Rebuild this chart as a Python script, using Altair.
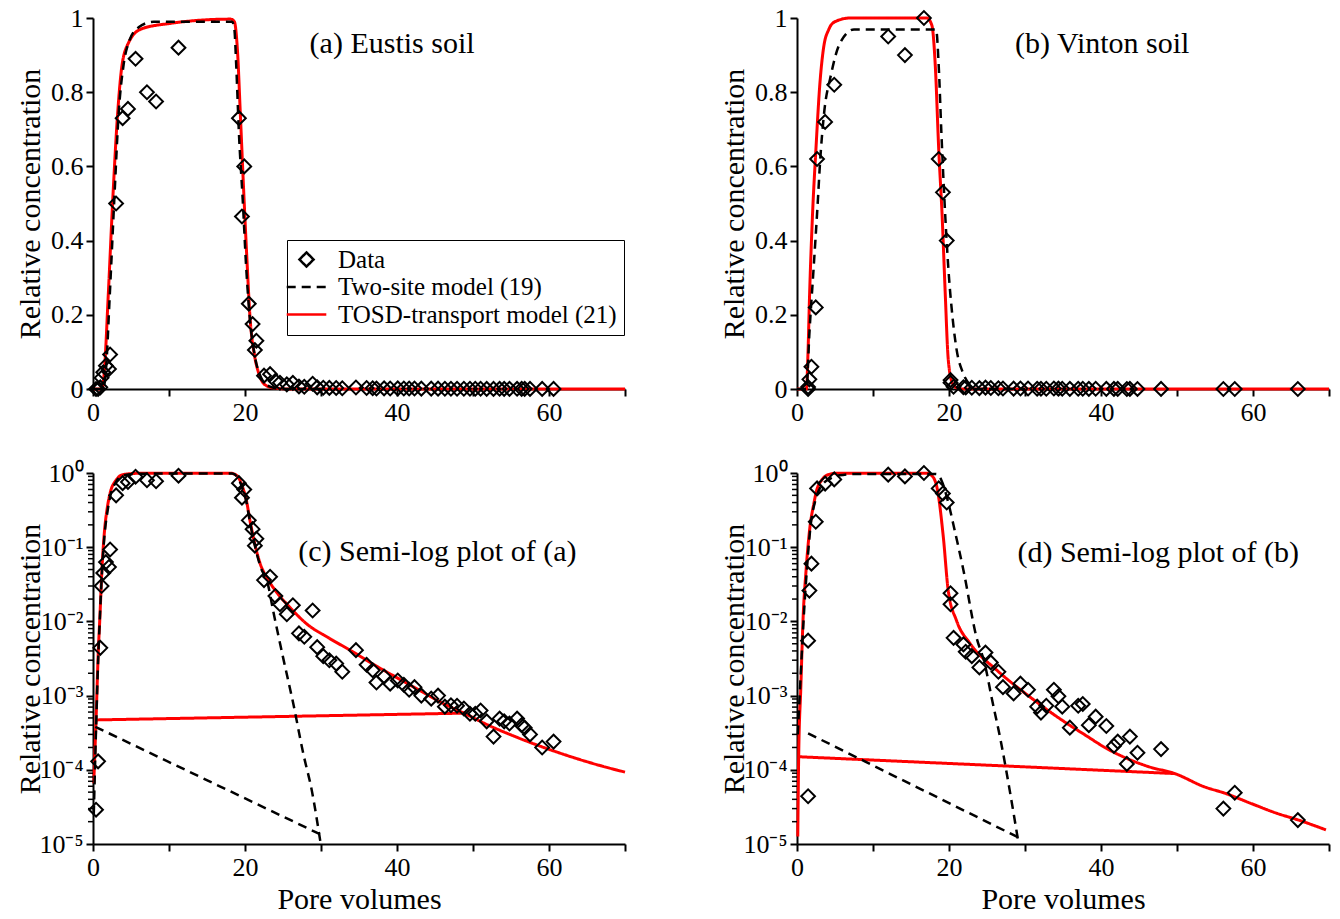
import altair as alt
import pandas as pd

FONT = "Liberation Serif"
SERIES = ["Data", "Two-site model (19)", "TOSD-transport model (21)"]

# ---------------- measured data ----------------
eustis_pv = [0.4, 0.67, 0.96, 1.13, 1.35, 1.7, 2.1, 2.25, 3.04, 3.9, 4.6, 5.6, 7.1, 8.3, 11.25,
             19.2, 19.6, 19.9, 20.5, 21.0, 21.3, 21.5, 22.5, 23.3, 24.0, 24.6, 25.5, 26.3, 27.1,
             27.8, 28.9, 29.5, 30.3, 31.1, 32.0, 32.8, 34.6, 36.0, 36.8, 37.3, 38.3, 39.1, 40.1,
             40.9, 41.6, 42.3, 43.2, 44.5, 45.4, 46.3, 47.1, 47.9, 48.8, 49.6, 50.3, 51.0, 51.8,
             52.7, 53.5, 54.1, 54.8, 55.8, 56.4, 56.8, 57.5, 59.1, 60.6]
eustis_c = [2.9e-5, 1.3e-4, 4.4e-3, 0.03, 0.045, 0.063, 0.054, 0.093, 0.50, 0.73, 0.755, 0.89, 0.80,
            0.775, 0.92, 0.73, 0.465, 0.60, 0.23, 0.175, 0.105, 0.13, 0.036, 0.040, 0.022, 0.017,
            0.0125, 0.0165, 6.9e-3, 6.2e-3, 0.014, 4.5e-3, 3.4e-3, 3.0e-3, 2.7e-3, 2.1e-3, 4.1e-3,
            2.6e-3, 2.2e-3, 1.5e-3, 1.8e-3, 1.45e-3, 1.6e-3, 1.4e-3, 1.2e-3, 1.3e-3, 1.0e-3, 9.1e-4,
            1.0e-3, 7.1e-4, 7.4e-4, 7.3e-4, 6.7e-4, 5.7e-4, 5.7e-4, 6.3e-4, 4.5e-4, 2.8e-4, 4.9e-4,
            4.5e-4, 4.2e-4, 4.9e-4, 4.0e-4, 3.7e-4, 3.0e-4, 2.0e-4, 2.4e-4]

vinton_pv = [1.46, 1.46, 1.63, 1.9, 2.47, 2.64, 3.7, 4.9, 12.0, 14.2, 16.7, 18.65, 19.2, 19.7,
             20.2, 20.2, 20.6, 21.9, 22.2, 23.0, 24.8, 24.0, 25.5, 26.5, 27.1, 28.5, 29.4, 30.4,
             31.6, 32.1, 32.8, 33.8, 34.4, 34.9, 35.9, 37.0, 37.6, 38.4, 39.3, 40.7, 41.7, 42.2,
             43.4, 43.8, 44.8, 47.9, 56.1, 57.6, 65.9]
vinton_c = [4.4e-5, 5.5e-3, 2.6e-2, 6.0e-2, 0.22, 0.62, 0.72, 0.82, 0.95, 0.90, 1.0, 0.62, 0.53,
            0.40, 0.024, 0.017, 6e-3, 4.9e-3, 3.9e-3, 3.4e-3, 3.8e-3, 2.4e-3, 2.8e-3, 2.1e-3,
            1.3e-3, 1.07e-3, 1.45e-3, 1.2e-3, 7.1e-4, 5.9e-4, 7.3e-4, 1.2e-3, 9.8e-4, 7.1e-4,
            3.7e-4, 7.3e-4, 7.7e-4, 4.0e-4, 5.2e-4, 3.9e-4, 2.1e-4, 2.4e-4, 1.2e-4, 2.8e-4,
            1.7e-4, 1.9e-4, 3.0e-5, 4.9e-5, 2.1e-5]

# ---- model curves, panel (a) linear ----
a_tosd_pv = [0, 1.2, 1.5, 2.0, 2.6, 3.2, 3.8, 4.6, 6.3, 10.0, 18.1, 18.6, 19.0, 19.4, 19.8, 20.3,
             20.65, 21.2, 21.8, 22.6, 23.7, 26.0, 70.0]
a_tosd_c = [0, 0, 0.05, 0.25, 0.51, 0.73, 0.87, 0.93, 0.97, 0.985, 0.997, 0.99, 0.915, 0.735,
            0.546, 0.33, 0.196, 0.097, 0.043, 0.012, 0.003, 0, 0]
a_two_pv = [0, 1.3, 1.7, 2.2, 2.8, 3.4, 4.0, 4.8, 6.0, 8.0, 18.3, 18.6, 18.85, 19.2, 19.7, 20.15,
            20.65, 21.3, 22.05, 23.2, 24.9, 30.0]
a_two_c = [0, 0, 0.05, 0.25, 0.51, 0.75, 0.87, 0.94, 0.975, 0.99, 0.99, 0.97, 0.87, 0.69, 0.51,
           0.33, 0.187, 0.088, 0.034, 0.007, 0, 0]

# ---- model curves, panel (b) linear ----
b_tosd_pv = [0, 1.24, 1.45, 1.65, 2.0, 2.5, 3.0, 3.5, 4.2, 5.0, 7.0, 17.1, 17.75, 18.2, 18.65,
             19.1, 19.5, 19.9, 20.45, 21.0, 21.6, 70.0]
b_tosd_c = [0, 0, 0.1, 0.25, 0.45, 0.65, 0.82, 0.92, 0.97, 0.99, 1.0, 1.0, 0.98, 0.87, 0.645,
            0.465, 0.26, 0.08, 0.016, 0.003, 0, 0]
b_two_pv = [0, 1.24, 1.63, 2.2, 2.75, 3.0, 3.6, 4.4, 5.6, 7.5, 18.3, 18.65, 19.0, 19.4, 19.9,
            20.45, 21.0, 21.85, 22.7, 23.5, 30.0]
b_two_c = [0, 0, 0.15, 0.33, 0.51, 0.6, 0.75, 0.84, 0.93, 0.969, 0.969, 0.87, 0.69, 0.51, 0.33,
           0.196, 0.106, 0.043, 0.012, 0, 0]

# ---- model curves, panel (c) semi-log ----
c_tosd_pv = [0.1, 0.4, 0.7, 0.9, 1.2, 1.5, 1.9, 2.3, 3.0, 4.0, 6.0, 18.1, 19.0, 19.6, 20.2, 20.65,
             21.3, 22.0, 23.0, 24.0, 25.9, 28.1, 31.0, 34.0, 37.0, 40.0, 43.0, 46.0, 48.8, 52.0,
             55.0, 58.0, 61.0, 64.0, 67.0, 70.0]
c_tosd_c = [6.6e-5, 4.7e-4, 4.0e-3, 0.011, 0.056, 0.16, 0.35, 0.56, 0.79, 0.955, 0.99, 0.993,
            0.91, 0.68, 0.42, 0.23, 0.11, 0.06, 0.037, 0.026, 0.0155, 9.3e-3, 6.0e-3, 4.0e-3,
            2.6e-3, 1.74e-3, 1.17e-3, 7.9e-4, 5.8e-4, 4.0e-4, 2.95e-4, 2.24e-4, 1.74e-4,
            1.38e-4, 1.12e-4, 9.3e-5]
c_tosd_seg_pv = [0.35, 48.8]
c_tosd_seg_c = [4.7e-4, 5.8e-4]
c_two_pv = [0.1, 0.4, 0.7, 0.9, 1.2, 1.5, 1.9, 2.3, 3.0, 4.0, 6.0, 18.3, 19.0, 19.6, 20.2, 20.65,
            21.3, 22.0, 23.0, 23.7, 25.0, 26.35, 27.7, 28.8, 29.9]
c_two_c = [2.5e-5, 3.5e-4, 3.5e-3, 0.011, 0.05, 0.14, 0.3, 0.5, 0.75, 0.93, 0.98, 0.985, 0.88,
           0.65, 0.40, 0.22, 0.105, 0.056, 0.032, 0.014, 3.3e-3, 7.8e-4, 1.6e-4, 5.2e-5, 1.1e-5]
c_two_seg_pv = [0.3, 29.9]
c_two_seg_c = [3.8e-4, 1.35e-5]

# ---- model curves, panel (d) semi-log ----
d_tosd_pv = [0.1, 0.22, 0.5, 0.8, 1.2, 1.7, 2.2, 2.6, 3.2, 3.9, 5.0, 17.1, 17.7, 18.4, 19.25,
             19.9, 21.0, 22.8, 26.3, 30.7, 35.1, 37.9, 40.7, 43.5, 46.3, 49.7, 53.6, 56.4, 59.8,
             63.1, 66.0, 69.6]
d_tosd_c = [1.26e-5, 1.5e-4, 1.26e-3, 0.011, 0.05, 0.186, 0.38, 0.59, 0.79, 0.93, 0.99, 0.995,
            0.93, 0.65, 0.138, 0.026, 0.0102, 5.0e-3, 2.2e-3, 9.5e-4, 4.5e-4, 2.95e-4, 1.95e-4,
            1.41e-4, 1.1e-4, 8.9e-5, 5.9e-5, 4.8e-5, 3.5e-5, 2.6e-5, 2.1e-5, 1.55e-5]
d_tosd_seg_pv = [0.2, 49.7]
d_tosd_seg_c = [1.5e-4, 8.9e-5]
d_two_pv = [0.1, 0.5, 0.9, 1.3, 1.8, 2.4, 3.0, 3.6, 4.4, 5.6, 7.5, 18.3, 19.0, 19.7, 20.8, 21.9,
            23.6, 24.7, 25.6, 26.9, 28.0, 29.1]
d_two_c = [3.0e-4, 2.0e-3, 0.012, 0.05, 0.2, 0.42, 0.62, 0.75, 0.84, 0.93, 0.969, 0.969, 0.8,
           0.48, 0.16, 0.049, 6.2e-3, 2.7e-3, 9.5e-4, 2.2e-4, 5.2e-5, 1.1e-5]
d_two_seg_pv = [1.46, 29.1]
d_two_seg_c = [3.1e-4, 1.23e-5]

# ---- panel captions ----
panel_labels = ["(a) Eustis soil", "(b) Vinton soil", "(c) Semi-log plot of (a)",
                "(d) Semi-log plot of (b)"]
panel_label_pv = [28.5, 28.7, 27.0, 29.0]
panel_label_c = [0.93, 0.93, 0.085, 0.083]

# ---- axis ticks ----
x_ticks = [0, 10, 20, 30, 40, 50, 60, 70]
lin_ticks = [0, 0.2, 0.4, 0.6, 0.8, 1.0]
log_ticks = [1e-5, 1e-4, 1e-3, 1e-2, 1e-1, 1.0]
log_minor = [m * d for d in [1e-5, 1e-4, 1e-3, 1e-2, 1e-1] for m in range(2, 10)]

LOG_LABELS = ("datum.value >= 0.5 ? '10\u2070' : datum.value >= 0.05 ? '10\u207b\u00b9' : "
              "datum.value >= 0.005 ? '10\u207b\u00b2' : datum.value >= 0.0005 ? '10\u207b\u00b3' : "
              "datum.value >= 0.00005 ? '10\u207b\u2074' : '10\u207b\u2075'")
LINE_SYMBOL = "M-2.8,0L2.8,0"

AXIS_STYLE = dict(labelFont=FONT, labelFontSize=26, labelColor="black", labelPadding=3,
                  titleFont=FONT, titleFontSize=30, titleFontWeight="normal", titleColor="black",
                  domainColor="black", domainWidth=2, tickColor="black",
                  tickWidth=2, tickSize=7, grid=False, labelOverlap=False)


def parts_frame(parts, series):
    frames = []
    for i, (pv, c) in enumerate(parts):
        frames.append(pd.DataFrame({"pv": pv, "c": c, "part": i, "series": series}))
    return pd.concat(frames, ignore_index=True)


def panel(pts_pv, pts_c, red_parts, black_parts, log, idx, show_legend, x_title):
    xs = alt.Scale(domain=[0, 70], nice=False, zero=False)
    xaxis = alt.Axis(values=x_ticks, labelExpr="datum.value % 20 == 0 ? datum.label : ''",
                     labelFlush=False, titlePadding=4, **AXIS_STYLE)
    if log:
        ys = alt.Scale(type="log", domain=[1e-5, 1.0], nice=False)
        yaxis = alt.Axis(values=log_ticks, labelExpr=LOG_LABELS, titleX=-48,
                         title="Relative concentration", **AXIS_STYLE)
    else:
        ys = alt.Scale(domain=[0, 1.0], nice=False, zero=False)
        yaxis = alt.Axis(values=lin_ticks, format=".1~f", titleX=-48,
                         title="Relative concentration", **AXIS_STYLE)
    if x_title:
        xenc = alt.X("pv:Q", scale=xs, axis=xaxis, title=x_title)
    else:
        xenc = alt.X("pv:Q", scale=xs, axis=xaxis, title=None)
    yenc = alt.Y("c:Q", scale=ys, axis=yaxis)

    if show_legend:
        leg = alt.Legend(orient="none", legendX=194, legendY=222, title=None,
                         strokeColor="black", fillColor="white", padding=7)
    else:
        leg = None
    color = alt.Color("series:N", scale=alt.Scale(domain=SERIES, range=["black", "black", "red"]),
                      legend=leg)
    dash = alt.StrokeDash("series:N",
                          scale=alt.Scale(domain=SERIES, range=[[1, 0], [9, 6], [1, 0]]),
                          legend=leg)
    shape = alt.Shape("series:N",
                      scale=alt.Scale(domain=SERIES, range=["diamond", LINE_SYMBOL, LINE_SYMBOL]),
                      legend=leg)

    red = alt.Chart(parts_frame(red_parts, SERIES[2])).mark_line(
        strokeWidth=3, interpolate="monotone").encode(
        x=xenc, y=yenc, color=color, strokeDash=dash, detail="part:N")
    black = alt.Chart(parts_frame(black_parts, SERIES[1])).mark_line(
        strokeWidth=2.5, interpolate="monotone").encode(
        x=xenc, y=yenc, color=color, strokeDash=dash, detail="part:N")
    pts = alt.Chart(pd.DataFrame({"pv": pts_pv, "c": pts_c, "series": SERIES[0]})).mark_point(
        filled=False, size=190, strokeWidth=2, opacity=1).encode(
        x=xenc, y=yenc, color=color, shape=shape)
    text = alt.Chart(pd.DataFrame({"pv": [panel_label_pv[idx]], "c": [panel_label_c[idx]],
                                   "t": [panel_labels[idx]]})).mark_text(
        align="left", baseline="middle", font=FONT, fontSize=30, color="black").encode(
        x=xenc, y=yenc, text="t:N")
    layers = [red, black, pts, text]
    if log:
        minor = alt.Chart(pd.DataFrame({"c": log_minor})).mark_rule(
            color="black", strokeWidth=1.5).encode(
            y=yenc, x=alt.value(-5), x2=alt.value(0))
        layers.append(minor)
    return alt.layer(*layers).properties(width=532, height=371)


pa = panel(eustis_pv, eustis_c, [(a_tosd_pv, a_tosd_c)], [(a_two_pv, a_two_c)],
           False, 0, True, None)
pb = panel(vinton_pv, vinton_c, [(b_tosd_pv, b_tosd_c)], [(b_two_pv, b_two_c)],
           False, 1, False, None)
pc = panel(eustis_pv, eustis_c, [(c_tosd_pv, c_tosd_c), (c_tosd_seg_pv, c_tosd_seg_c)],
           [(c_two_pv, c_two_c), (c_two_seg_pv, c_two_seg_c)], True, 2, False, "Pore volumes")
pd_ = panel(vinton_pv, vinton_c, [(d_tosd_pv, d_tosd_c), (d_tosd_seg_pv, d_tosd_seg_c)],
            [(d_two_pv, d_two_c), (d_two_seg_pv, d_two_seg_c)], True, 3, False, "Pore volumes")

ind = dict(color="independent", shape="independent", strokeDash="independent")
top = alt.hconcat(pa, pb, spacing=88).resolve_scale(**ind)
bottom = alt.hconcat(pc, pd_, spacing=88).resolve_scale(**ind)

chart = alt.vconcat(top, bottom, spacing=35).resolve_scale(**ind).properties(
    padding={"left": 15, "top": 5, "right": 5, "bottom": 5}
).configure_view(strokeWidth=0).configure_axis(
    domainColor="black", domainWidth=2, tickColor="black", tickWidth=2, tickSize=7,
    labelFont=FONT, labelFontSize=26, labelColor="black", labelPadding=3,
    titleFont=FONT, titleFontSize=30, titleFontWeight="normal", titleColor="black",
    grid=False
).configure_legend(
    labelFont=FONT, labelFontSize=25, labelColor="black", labelLimit=400,
    rowPadding=1.5, symbolSize=200, symbolStrokeWidth=2.5, labelOffset=19,
    symbolStrokeColor="black"
)

chart.save("out.html", embed_options={"renderer": "svg", "actions": False})
